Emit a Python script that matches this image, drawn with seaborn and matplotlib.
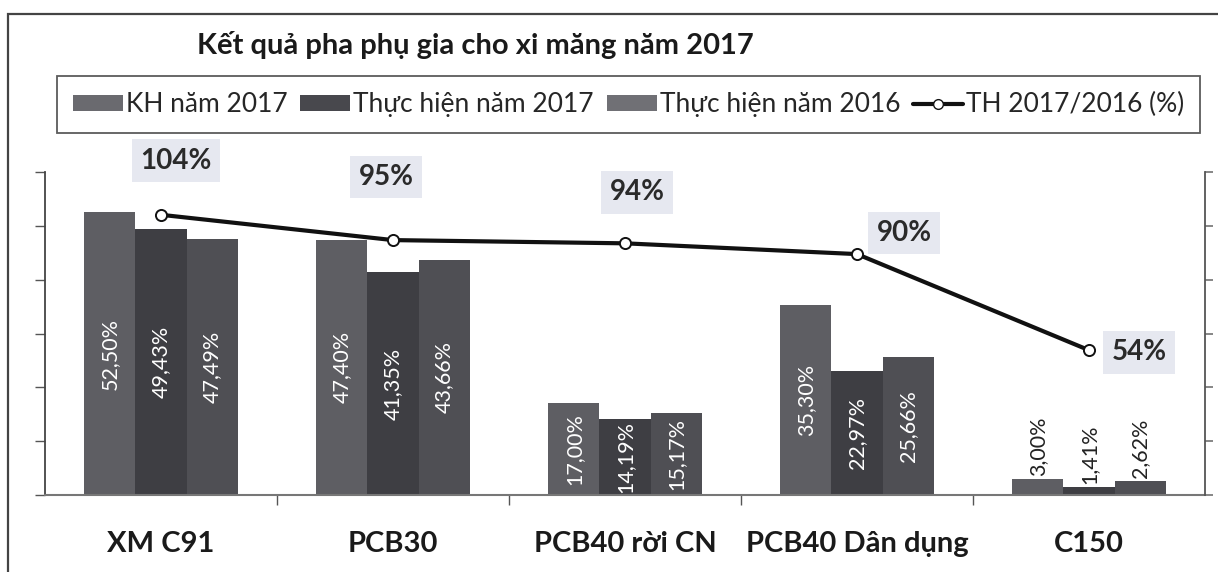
import numpy as np
import pandas as pd
import matplotlib.pyplot as plt
import seaborn as sns
from matplotlib.patches import Patch, Rectangle
from matplotlib.lines import Line2D

sns.set_theme(style="white")
plt.rcParams['font.family'] = ['Lato', 'Noto Sans', 'DejaVu Sans']

# số liệu
categories = ['XM C91', 'PCB30', 'PCB40 rời CN', 'PCB40 Dân dụng', 'C150']
kh_2017 = [52.50, 47.40, 17.00, 35.30, 3.00]
th_2017 = [49.43, 41.35, 14.19, 22.97, 1.41]
th_2016 = [47.49, 43.66, 15.17, 25.66, 2.62]
ratio = [104.1, 94.7, 93.5, 89.5, 53.8]
series = ['KH năm 2017', 'Thực hiện năm 2017', 'Thực hiện năm 2016']
line_name = 'TH 2017/2016 (%)'

df = pd.DataFrame({
    'loai': categories * 3,
    'nhom': [s for s in series for _ in categories],
    'gia_tri': kh_2017 + th_2017 + th_2016,
})

colors = ['#5e5e63', '#3e3e43', '#4f4f54']
W, H = 1218, 572

fig, ax = plt.subplots(figsize=(W / 100, H / 100), dpi=100)
ax.set_position([45 / W, 1 - 495 / H, 1160 / W, 323 / H])

sns.barplot(data=df, x='loai', y='gia_tri', hue='nhom', palette=colors,
            width=0.66, saturation=1, linewidth=0, ax=ax, legend=False)
ax.set_ylim(0, 60)
ax.set_xlim(-0.5, 4.5)
ax.set_xlabel('')
ax.set_ylabel('')
ax.set_yticks(range(0, 61, 10))
ax.set_yticklabels([])
ax.tick_params(axis='y', left=True, length=7, width=1, color='#555555')
ax.set_xticks(range(len(categories)))
ax.set_xticklabels(categories, fontsize=21, fontweight='bold', color='#1a1a1a')
ax.tick_params(axis='x', length=0, pad=26)
ax.set_xticks(np.arange(0.5, 4.5, 1), minor=True)
ax.tick_params(axis='x', which='minor', bottom=True, length=7, width=1, color='#555555')
for s in ['top', 'right']:
    ax.spines[s].set_visible(False)
ax.spines['left'].set_color('#444444')
ax.spines['bottom'].set_color('#777777')
ax.spines['left'].set_linewidth(1.3)
ax.spines['bottom'].set_linewidth(1.5)

# nhãn giá trị cột
for cont in ax.containers:
    for bar in cont:
        h = bar.get_height()
        x = bar.get_x() + bar.get_width() / 2
        txt = f'{h:.2f}%'.replace('.', ',')
        if h < 10:
            ax.text(x, h + 0.6, txt, rotation=90, ha='center', va='bottom',
                    fontsize=15.5, color='#222222')
        else:
            ax.text(x, h / 2, txt, rotation=90, ha='center', va='center',
                    fontsize=15.5, color='white')

# đường tỷ lệ
ax2 = ax.twinx()
ax2.set_position(ax.get_position())
xs = np.arange(len(categories))
sns.lineplot(x=xs, y=ratio, ax=ax2, color='#111111', linewidth=3,
             marker='o', markersize=8, markerfacecolor='white',
             markeredgecolor='#111111', markeredgewidth=1.4)
ax2.set_ylim(0, 120)
ax2.set_yticks(range(0, 121, 20))
ax2.set_yticklabels([])
ax2.tick_params(axis='y', right=True, length=6, color='#777777')
for s in ['top', 'left', 'bottom']:
    ax2.spines[s].set_visible(False)
ax2.spines['right'].set_color('#555555')
ax2.spines['right'].set_linewidth(1.3)

offsets = [(15, 54), (-7, 63), (12, 51), (47, 21), (50, -2)]
for x, v, off in zip(xs, ratio, offsets):
    ax2.annotate(f'{round(v)}%', (x, v), xytext=off, textcoords='offset pixels',
                 ha='center', va='center', fontsize=20, fontweight='bold',
                 color='#2a2a2a',
                 bbox=dict(boxstyle='square,pad=0.3', fc='#e6e8f0', ec='none'))

# tiêu đề
fig.text(197 / W, 1 - 45 / H, 'Kết quả pha phụ gia cho xi măng năm 2017',
         ha='left', va='center', fontsize=21, fontweight='bold', color='#1a1a1a')

# chú thích
handles = [Patch(facecolor=c, edgecolor='none') for c in ['#6a6a6f', '#48484d', '#707075']]
handles.append(Line2D([0], [0], color='#111111', linewidth=3, marker='o',
                      markersize=7, markerfacecolor='white', markeredgecolor='#111111'))
leg = fig.legend(handles, series + [line_name], loc='lower left', ncol=4,
                 bbox_to_anchor=(57 / W, 1 - 133 / H, 1143 / W, 53 / H),
                 mode='expand', fontsize=19, frameon=True, fancybox=False,
                 handlelength=1.9, handleheight=0.55, handletextpad=0.1,
                 columnspacing=0.3, borderaxespad=0, borderpad=0.6)
leg.get_frame().set_edgecolor('#333333')
leg.get_frame().set_linewidth(1.3)

# khung ngoài
fig.patches.append(Rectangle((8 / W, -0.05), 1.2, 1 - 14 / H + 0.05,
                             transform=fig.transFigure, fill=False,
                             edgecolor='#444444', linewidth=1.6))

fig.savefig('out.png', dpi=100)
